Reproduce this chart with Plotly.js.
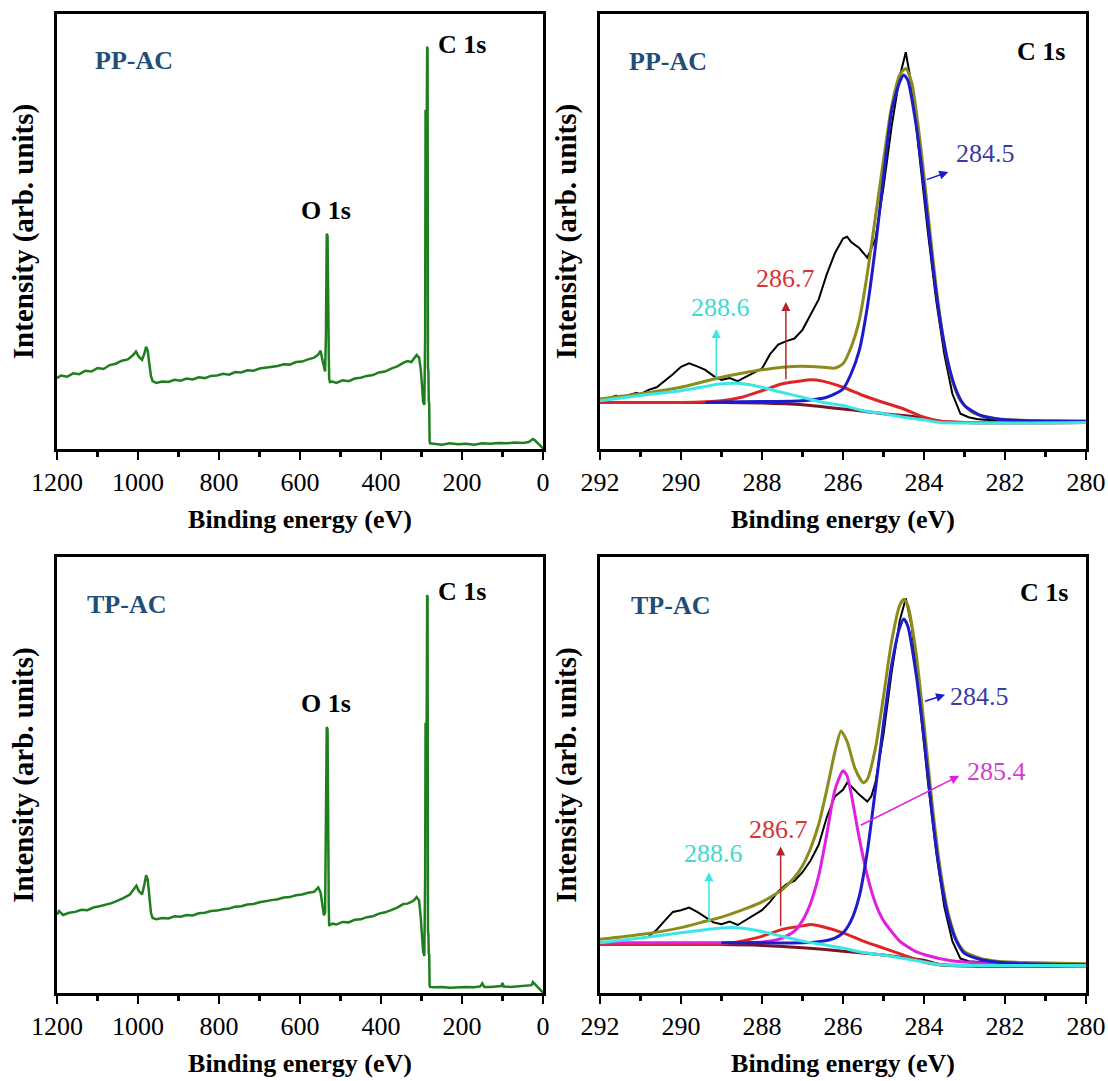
<!DOCTYPE html>
<html><head><meta charset="utf-8">
<script src="https://cdn.plot.ly/plotly-3.0.1.min.js"></script>
<style>html,body{margin:0;padding:0;background:#fff}#chart{width:1108px;height:1081px}</style>
</head><body><div id="chart"></div>
<script>
// ---------- Survey spectra (binding energy eV, intensity arb.) ----------
const ppSurveyE = [1200,1190,1175,1160,1145,1130,1115,1100,1085,1070,1055,1040,1025,1012,1005,998,990,984,980,976,972,968,964,955,940,925,910,895,880,865,850,835,820,805,790,775,760,745,730,715,700,685,670,655,640,625,610,595,580,565,555,549,545,541,538,536,534,532,531,530,529,528,526,520,510,495,480,465,450,435,420,405,390,375,360,345,335,325,318,312,306,302,299,296,293,291,290,288,286,285,284,283,282,281,280,279,270,250,230,210,190,170,150,130,110,90,70,50,35,25,20,15,10,5,0];
const ppSurveyI = [16.3,16.9,16.6,17.4,17.2,18.0,17.8,18.6,18.4,19.3,19.6,20.3,20.6,21.6,22.4,21.2,20.5,22.0,23.5,22.6,19.5,16.8,15.6,15.2,15.5,15.4,15.9,15.7,16.2,16.0,16.5,16.3,16.8,16.9,17.3,17.1,17.7,17.6,18.1,18.0,18.5,18.7,19.0,19.1,19.5,19.4,20.0,20.1,20.6,21.0,21.7,22.6,20.6,18.5,17.8,26.0,49.5,49.0,30.0,26.5,22.0,16.2,15.4,15.5,15.2,15.8,15.6,16.2,16.4,16.8,17.0,17.6,17.8,18.5,19.0,19.8,20.2,20.0,20.8,21.6,21.0,18.5,15.0,10.8,10.2,26.0,78.0,60.0,92.5,92.0,18.5,17.8,11.0,10.5,2.0,1.3,1.2,1.0,1.3,1.1,1.2,1.0,1.3,1.2,1.4,1.3,1.5,1.4,1.6,2.3,2.0,1.6,1.2,0.6,0.1];

const tpSurveyE = [1200,1195,1185,1170,1155,1140,1125,1110,1095,1080,1065,1050,1035,1020,1010,1004,998,990,984,980,976,972,968,964,955,940,925,910,895,880,865,850,835,820,805,790,775,760,745,730,715,700,685,670,655,640,625,610,595,580,565,555,549,545,541,538,536,534,532,531,530,529,528,526,520,510,495,480,465,450,435,420,405,390,375,360,345,335,325,318,312,306,302,299,296,293,291,290,288,286,285,284,283,282,281,280,279,270,250,230,210,190,170,155,150,145,130,110,103,100,97,80,60,40,28,25,20,15,10,5,0];
const tpSurveyI = [18.0,18.8,17.9,18.4,18.6,19.1,19.0,19.6,19.9,20.3,20.6,21.2,21.8,22.6,23.8,24.6,23.4,22.6,25.0,27.0,26.0,21.5,18.4,17.2,16.9,17.2,17.1,17.6,17.5,17.9,17.8,18.3,18.4,18.8,18.9,19.2,19.4,19.8,19.9,20.3,20.4,20.8,21.1,21.3,21.5,21.9,22.0,22.4,22.6,23.0,23.2,24.2,23.0,20.2,17.8,18.5,45.0,61.0,60.5,35.0,24.5,20.0,15.4,15.6,15.9,15.7,16.3,16.2,16.8,16.9,17.4,17.6,18.2,18.5,19.0,19.6,20.4,20.5,20.9,21.3,22.0,21.2,17.5,14.0,9.5,8.5,27.0,62.0,45.0,91.3,90.8,14.0,13.5,9.0,8.8,1.8,1.4,1.3,1.4,1.2,1.3,1.4,1.3,1.5,2.2,1.4,1.4,1.5,1.6,2.3,1.5,1.4,1.5,1.6,1.8,2.5,2.0,1.4,1.0,0.5,0.1];

// ---------- PP-AC C 1s high-resolution ----------
const ppRawE = [291.8,291.6,291.5,291.3,291.1,291.0,290.8,290.6,290.4,290.2,290.0,289.8,289.6,289.4,289.2,289.0,288.8,288.6,288.4,288.2,288.0,287.8,287.6,287.4,287.2,287.0,286.8,286.6,286.4,286.2,286.0,285.9,285.8,285.6,285.4,285.3,285.2,285.0,284.8,284.6,284.45,284.3,284.1,283.9,283.7,283.5,283.3,283.1,282.9,282.7,282.5,282.0,281.0,280.0];
const ppRawI = [11.6,12.3,11.8,12.4,12.9,12.6,13.6,14.2,15.6,17.2,18.9,19.7,19.0,18.2,16.8,15.9,16.3,15.6,16.6,17.6,18.5,21.8,24.0,24.8,25.4,27.4,31.0,34.4,40.2,45.0,48.4,48.8,47.6,46.2,44.0,46.1,48.2,60.2,74.1,85.6,91.2,83.3,66.4,49.5,34.2,21.9,12.7,8.1,7.3,6.9,6.7,6.5,6.4,6.4];
const ppEnvE = [292,291,290,289,288.5,288,287.5,287,286.5,286.2,286.0,285.8,285.6,285.4,285.2,285.0,284.8,284.6,284.45,284.3,284.1,283.9,283.7,283.5,283.3,283.1,282.8,282.4,282,281,280];
const ppEnvI = [11.5,12.7,14.2,16.5,17.4,18.2,18.8,19.0,18.8,18.6,19.6,23.4,29.5,40.3,53.3,66.4,78.7,86.0,87.5,84.1,71.0,54.1,37.2,24.2,15.7,11.1,8.4,7.3,6.8,6.5,6.4];
const ppC1E = [289.4,289,288,287,286.4,286,285.8,285.6,285.4,285.2,285.0,284.8,284.6,284.5,284.4,284.2,284.0,283.8,283.6,283.4,283.2,283.0,282.6,282.2,281.5,280];
const ppC1I = [10.7,10.8,10.9,11.1,11.9,13.8,17.3,22.6,32.6,46.4,62.5,77.7,84.4,86.0,84.8,74.8,60.2,43.4,29.5,19.6,13.4,10.0,7.7,6.9,6.5,6.4];
const ppC3E = [292,290,289,288.5,288,287.5,287,286.8,286.5,286,285.5,285,284.5,284,283.6,283,280];
const ppC3I = [10.7,10.7,11.1,11.9,13.4,15.0,15.7,15.9,15.6,14.2,12.3,10.7,9.2,7.3,6.4,6.1,6.1];
const ppC4E = [292,291,290,289.5,289,288.6,288.2,288,287.5,287,286.5,286,285.5,285,284.5,284,283.6,280];
const ppC4I = [11.1,12.3,13.4,14.2,15.0,15.1,14.6,14.2,13.0,11.9,10.7,10.0,8.8,8.1,7.3,6.7,6.1,6.1];
const ppBgE = [292,289,288,287,286.5,286,285.5,285,284.5,284,283.6,283,280];
const ppBgI = [10.7,10.7,10.6,10.2,9.7,9.2,8.7,8.1,7.7,7.1,6.4,6.1,6.1];

// ---------- TP-AC C 1s high-resolution ----------
const tpRawE = [290.8,290.6,290.4,290.2,290.0,289.8,289.6,289.4,289.2,289.0,288.8,288.6,288.4,288.2,288.0,287.8,287.6,287.4,287.2,287.0,286.8,286.6,286.4,286.2,286.0,285.9,285.8,285.6,285.4,285.3,285.2,285.0,284.8,284.6,284.45,284.3,284.1,283.9,283.7,283.5,283.3,283.1,282.9,282.5,282,280];
const tpRawI = [13.0,14.5,16.6,18.6,19.0,19.6,18.6,17.4,16.2,15.8,16.4,15.6,16.7,17.8,19.0,20.9,23.3,24.9,25.7,27.7,30.4,34.0,40.3,45.1,46.6,48.2,47.4,45.5,43.9,45.1,48.2,59.3,73.5,85.4,90.5,83.8,65.6,48.2,32.4,19.8,11.9,7.9,7.3,7.0,6.7,6.5];
const tpEnvE = [292,291,290,289.5,289,288.5,288,287.5,287.2,287.0,286.8,286.6,286.4,286.2,286.05,285.9,285.7,285.5,285.4,285.2,285.0,284.8,284.6,284.5,284.4,284.2,284.0,283.8,283.6,283.4,283.2,283.0,282.6,282.2,281.5,280];
const tpEnvI = [12.3,13.4,15.0,16.2,17.4,19.0,20.9,23.7,26.5,29.2,33.2,38.7,46.6,55.3,60.1,57.7,51.4,48.2,49.0,56.1,68.0,80.6,88.9,90.3,88.9,78.3,61.7,43.5,28.5,18.2,12.3,9.5,7.9,7.3,7.0,6.7];
const tpC1E = [289,288,287,286.5,286.2,286.0,285.8,285.6,285.4,285.2,285.0,284.8,284.6,284.5,284.4,284.2,284.0,283.8,283.6,283.4,283.2,283.0,282.6,282.2,281.5,280];
const tpC1I = [11.5,11.5,11.5,11.9,12.6,13.8,16.6,22.1,32.4,46.6,61.7,75.1,83.8,85.8,84.2,73.5,58.5,41.1,26.9,17.4,11.9,9.1,7.7,7.1,6.7,6.5];
const tpC2E = [292,289,288,287.5,287.2,287.0,286.8,286.6,286.4,286.2,286.0,285.9,285.8,285.6,285.4,285.2,285.0,284.6,284.2,283.8,283.4,283,282,280];
const tpC2I = [11.5,11.5,11.7,12.6,14.2,16.6,20.6,26.9,36.4,46.6,51.0,49.8,45.8,35.6,26.9,20.6,16.6,11.9,9.5,8.3,7.5,7.1,6.7,6.5];
const tpC3E = [292,290,289,288.5,288,287.5,287.0,286.8,286.5,286.0,285.5,285.0,284.5,284.0,283.6,280];
const tpC3I = [11.1,11.1,11.2,11.9,13.0,14.6,15.4,15.7,15.2,13.8,11.9,10.3,8.7,7.1,6.5,6.3];
const tpC4E = [292,291,290,289.5,289,288.7,288.3,288,287.5,287,286.5,286,285.5,285,284.5,284,283.6,280];
const tpC4I = [11.5,12.6,13.8,14.4,14.9,15.0,14.6,14.1,13.0,11.9,11.1,10.3,9.3,8.7,7.9,7.1,6.5,6.3];
const tpBgE = [292,289,288,287,286,285,284.5,284,283.6,283,280];
const tpBgI = [11.1,11.1,10.9,10.4,9.6,8.7,8.1,7.5,6.5,6.2,6.2];

// ---------- styling ----------
const FONT = "Liberation Serif, Times New Roman, DejaVu Serif, serif";
const W = 1108, H = 1081;
const dx = (a, b) => [a / W, b / W];
const dy = (top, bottom) => [1 - bottom / H, 1 - top / H];

const C = {green:'#1f7f1f', black:'#000000', olive:'#8c8c1e', blue:'#1c1cc8', red:'#e02424',
           cyan:'#3ce6e6', bg:'#7a1424', mag:'#e020e0', sample:'#1f4e79',
           lblBlue:'#3a3aa8', lblRed:'#d43535', lblCyan:'#3fd9d0', lblMag:'#d040d0', arrRed:'#b02828'};

function xAxis(dom, range, dtick, minor, anchor) {
  return {domain: dom, range: range, anchor: anchor, showgrid: false, zeroline: false,
    showline: true, linecolor: '#000', linewidth: 3, mirror: true,
    ticks: 'outside', ticklen: 8, tickwidth: 2.5, tickcolor: '#000', dtick: dtick, tick0: 0,
    minor: {ticks: 'outside', ticklen: 5, tickwidth: 2.5, tickcolor: '#000', dtick: minor, tick0: 0},
    tickfont: {family: FONT, size: 26, color: '#000'}, ticklabelstandoff: 0,
    title: {text: '<b>Binding energy (eV)</b>', font: {family: FONT, size: 26, color: '#000'}, standoff: 14}};
}
function yAxis(dom, anchor) {
  return {domain: dom, range: [0, 100], anchor: anchor, showgrid: false, zeroline: false,
    showline: true, linecolor: '#000', linewidth: 3, mirror: true, ticks: '', showticklabels: false,
    title: {text: '<b>Intensity (arb. units)</b>', font: {family: FONT, size: 29, color: '#000'}, standoff: 12}};
}
function line(x, y, xa, ya, color, width, smooth) {
  const t = {x: x, y: y, xaxis: xa, yaxis: ya, type: 'scatter', mode: 'lines', showlegend: false,
    hoverinfo: 'skip', line: {color: color, width: width}};
  if (smooth) { t.line.shape = 'spline'; t.line.smoothing = 0.6; }
  return t;
}

const data = [
  line(ppSurveyE, ppSurveyI, 'x', 'y', C.green, 2.5, false),
  line(ppRawE, ppRawI, 'x2', 'y2', C.black, 2, false),
  line(ppEnvE, ppEnvI, 'x2', 'y2', C.olive, 3, true),
  line(ppBgE, ppBgI, 'x2', 'y2', C.bg, 3, true),
  line(ppC3E, ppC3I, 'x2', 'y2', C.red, 3, true),
  line(ppC1E, ppC1I, 'x2', 'y2', C.blue, 3, true),
  line(ppC4E, ppC4I, 'x2', 'y2', C.cyan, 3, true),
  line(tpSurveyE, tpSurveyI, 'x3', 'y3', C.green, 2.5, false),
  line(tpRawE, tpRawI, 'x4', 'y4', C.black, 2, false),
  line(tpEnvE, tpEnvI, 'x4', 'y4', C.olive, 3, true),
  line(tpBgE, tpBgI, 'x4', 'y4', C.bg, 3, true),
  line(tpC3E, tpC3I, 'x4', 'y4', C.red, 3, true),
  line(tpC2E, tpC2I, 'x4', 'y4', C.mag, 3, true),
  line(tpC1E, tpC1I, 'x4', 'y4', C.blue, 3, true),
  line(tpC4E, tpC4I, 'x4', 'y4', C.cyan, 3, true)
];

function txt(x, y, xa, ya, text, color, size, anchor) {
  return {x: x, y: y, xref: xa, yref: ya, text: text, showarrow: false, xanchor: anchor || 'left',
    yanchor: 'middle', font: {family: FONT, size: size, color: color}};
}
function arrow(x, y, ax, ay, xa, ya, color) {
  return {x: x, y: y, ax: ax, ay: ay, xref: xa, yref: ya, axref: xa, ayref: ya, text: '',
    showarrow: true, arrowhead: 2, arrowsize: 1.2, arrowwidth: 1.5, arrowcolor: color};
}

const annotations = [
  txt(1112, 89.3, 'x', 'y', '<b>PP-AC</b>', C.sample, 26),
  txt(264, 93.0, 'x', 'y', '<b>C 1s</b>', '#000', 26),
  txt(536, 54.9, 'x', 'y', '<b>O 1s</b>', '#000', 26, 'center'),
  txt(1130, 89.2, 'x3', 'y3', '<b>TP-AC</b>', C.sample, 26),
  txt(264, 92.1, 'x3', 'y3', '<b>C 1s</b>', '#000', 26),
  txt(536, 66.4, 'x3', 'y3', '<b>O 1s</b>', '#000', 26, 'center'),

  txt(291.34, 89.0, 'x2', 'y2', '<b>PP-AC</b>', C.sample, 26),
  txt(280.48, 91.3, 'x2', 'y2', '<b>C 1s</b>', '#000', 26, 'right'),
  txt(283.26, 67.9, 'x2', 'y2', '284.5', C.lblBlue, 26),
  txt(287.41, 39.1, 'x2', 'y2', '286.7', C.lblRed, 26, 'center'),
  txt(289.03, 32.6, 'x2', 'y2', '288.6', C.lblCyan, 26, 'center'),
  arrow(283.4, 63.7, 283.97, 61.8, 'x2', 'y2', C.blue),
  arrow(287.41, 33.8, 287.41, 15.7, 'x2', 'y2', C.arrRed),
  arrow(289.13, 27.6, 289.13, 16.1, 'x2', 'y2', C.cyan),

  txt(291.29, 88.9, 'x4', 'y4', '<b>TP-AC</b>', C.sample, 26),
  txt(280.4, 91.9, 'x4', 'y4', '<b>C 1s</b>', '#000', 26, 'right'),
  txt(283.4, 68.1, 'x4', 'y4', '284.5', C.lblBlue, 26),
  txt(283.0, 50.8, 'x4', 'y4', '285.4', C.lblMag, 26),
  txt(287.59, 37.5, 'x4', 'y4', '286.7', C.lblRed, 26, 'center'),
  txt(289.2, 32.0, 'x4', 'y4', '288.6', C.lblCyan, 26, 'center'),
  arrow(283.48, 68.4, 284.01, 66.8, 'x4', 'y4', C.blue),
  arrow(283.13, 49.8, 285.6, 38.3, 'x4', 'y4', C.mag),
  arrow(287.54, 33.6, 287.54, 15.0, 'x4', 'y4', C.arrRed),
  arrow(289.31, 27.7, 289.31, 15.8, 'x4', 'y4', C.cyan)
];

const layout = {
  width: W, height: H, margin: {l: 0, r: 0, t: 0, b: 0},
  paper_bgcolor: '#fff', plot_bgcolor: '#fff', showlegend: false,
  font: {family: FONT, color: '#000'},
  xaxis: xAxis(dx(57, 543), [1200, 0], 200, 100, 'y'),
  yaxis: yAxis(dy(14, 449), 'x'),
  xaxis2: xAxis(dx(600, 1086), [292, 280], 2, 1, 'y2'),
  yaxis2: yAxis(dy(14, 449), 'x2'),
  xaxis3: xAxis(dx(57, 543), [1200, 0], 200, 100, 'y3'),
  yaxis3: yAxis(dy(557, 993), 'x3'),
  xaxis4: xAxis(dx(600, 1086), [292, 280], 2, 1, 'y4'),
  yaxis4: yAxis(dy(557, 993), 'x4'),
  annotations: annotations
};

Plotly.newPlot('chart', data, layout, {staticPlot: true, displayModeBar: false});
</script>
</body></html>
